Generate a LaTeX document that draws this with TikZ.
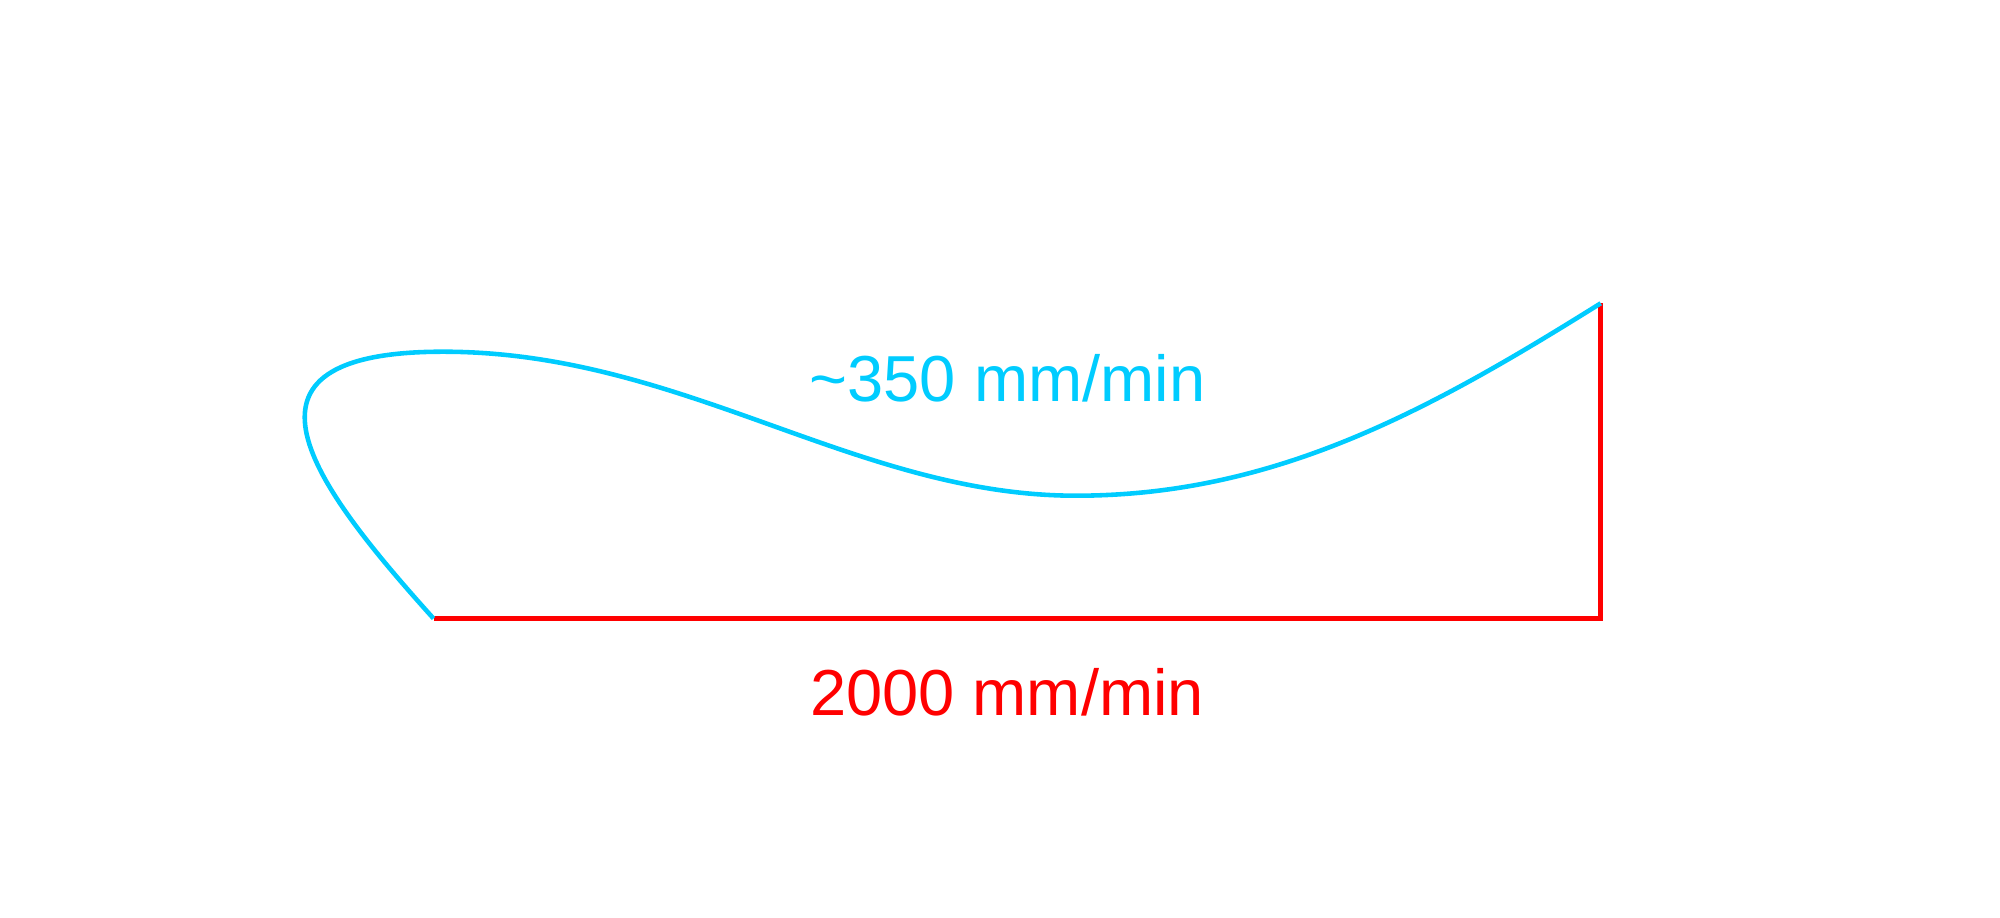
\documentclass[tikz,border=0pt]{standalone}
\usepackage{fontspec}
\setmainfont{Liberation Sans}
\usepackage{xcolor}
\usepackage{tikz}
\definecolor{feedblue}{RGB}{0,204,255}
\definecolor{feedred}{RGB}{255,0,0}

\begin{document}
\begin{tikzpicture}[
    cutline/.style={draw=feedblue, line width=1.3pt},
    rapidline/.style={draw=feedred, line width=1.3pt},
    speedlabel/.style={inner sep=0pt, anchor=base, font=\fontsize{18.5}{22}\selectfont}
]
\useasboundingbox (0,0) rectangle (20,9.17);

\coordinate (start) at (4.335,2.985);
\coordinate (corner) at (16.007,2.985);
\coordinate (end) at (16.007,6.137);
\coordinate (top) at (4.43,5.653);
\coordinate (low) at (10.76,4.213);

\draw[rapidline] (start) -- (corner) -- (end);
\draw[cutline] (start) .. controls (3.131,4.323) and (2.13,5.653) .. (top)
    .. controls (6.83,5.653) and (8.56,4.213) .. (low)
    .. controls (12.76,4.213) and (14.31,5.077) .. (end);

\node[speedlabel, text=feedblue] (slow) at (10.075,5.153) {\textasciitilde350 mm/min};
\node[speedlabel, text=feedred] (fast) at (10.07,2.02) {2000 mm/min};
\end{tikzpicture}
\end{document}
